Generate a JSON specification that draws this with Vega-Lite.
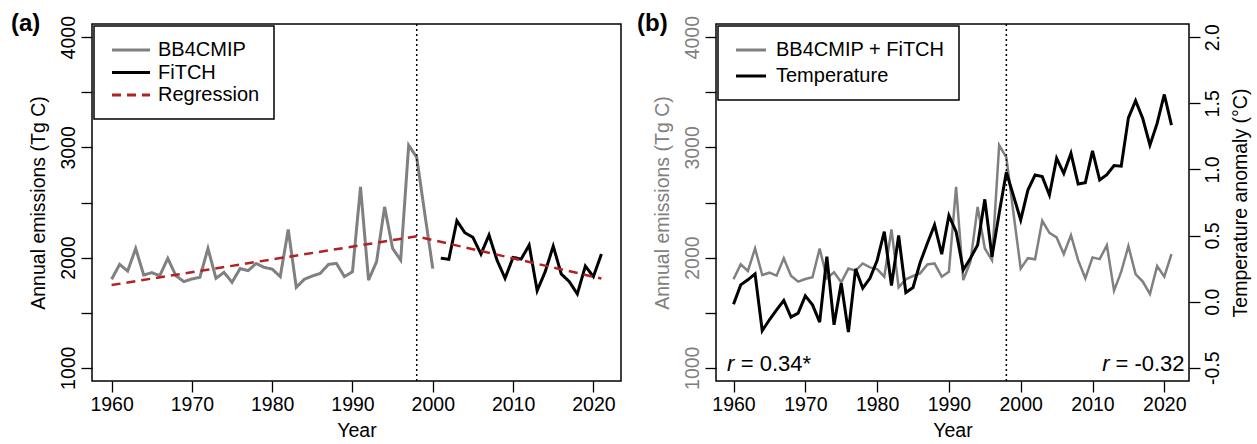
{
  "$schema": "https://vega.github.io/schema/vega-lite/v6.json",
  "padding": {"left": 10, "top": 10, "right": 5, "bottom": 5},
  "bounds": "flush",
  "spacing": 95,
  "resolve": {"scale": {"color": "independent", "strokeDash": "independent"}, "legend": {"color": "independent", "strokeDash": "independent"}},
  "config": {
    "font": "Liberation Sans",
    "view": {"stroke": "black", "strokeWidth": 1.5},
    "axis": {"grid": false, "domain": false, "tickColor": "black", "tickSize": 11, "tickWidth": 1.3, "labelFontSize": 19.5, "titleFontSize": 19.5, "titleFontWeight": "normal", "labelColor": "black", "titleColor": "black", "labelFlush": false, "labelOverlap": false, "labelPadding": 3},
    "legend": {"orient": "top-left", "offset": 2, "strokeColor": "black", "strokeWidth": 1.5, "fillColor": "white", "padding": 14, "labelFontSize": 20, "labelColor": "black", "symbolType": "M-0.8,0H4.27", "symbolSize": 225, "symbolStrokeWidth": 3, "labelOffset": 30, "rowPadding": 2.5, "labelLimit": 400, "title": null},
    "title": {"fontSize": 24, "fontWeight": "bold", "anchor": "start", "frame": "group", "color": "black"}
  },
  "datasets": {
    "emis": [
      {"year": 1960, "value": 1803, "series": "BB4CMIP"},
      {"year": 1961, "value": 1938, "series": "BB4CMIP"},
      {"year": 1962, "value": 1878, "series": "BB4CMIP"},
      {"year": 1963, "value": 2083, "series": "BB4CMIP"},
      {"year": 1964, "value": 1842, "series": "BB4CMIP"},
      {"year": 1965, "value": 1863, "series": "BB4CMIP"},
      {"year": 1966, "value": 1836, "series": "BB4CMIP"},
      {"year": 1967, "value": 1993, "series": "BB4CMIP"},
      {"year": 1968, "value": 1836, "series": "BB4CMIP"},
      {"year": 1969, "value": 1782, "series": "BB4CMIP"},
      {"year": 1970, "value": 1806, "series": "BB4CMIP"},
      {"year": 1971, "value": 1821, "series": "BB4CMIP"},
      {"year": 1972, "value": 2083, "series": "BB4CMIP"},
      {"year": 1973, "value": 1812, "series": "BB4CMIP"},
      {"year": 1974, "value": 1866, "series": "BB4CMIP"},
      {"year": 1975, "value": 1776, "series": "BB4CMIP"},
      {"year": 1976, "value": 1900, "series": "BB4CMIP"},
      {"year": 1977, "value": 1881, "series": "BB4CMIP"},
      {"year": 1978, "value": 1947, "series": "BB4CMIP"},
      {"year": 1979, "value": 1911, "series": "BB4CMIP"},
      {"year": 1980, "value": 1896, "series": "BB4CMIP"},
      {"year": 1981, "value": 1827, "series": "BB4CMIP"},
      {"year": 1982, "value": 2255, "series": "BB4CMIP"},
      {"year": 1983, "value": 1730, "series": "BB4CMIP"},
      {"year": 1984, "value": 1803, "series": "BB4CMIP"},
      {"year": 1985, "value": 1833, "series": "BB4CMIP"},
      {"year": 1986, "value": 1857, "series": "BB4CMIP"},
      {"year": 1987, "value": 1938, "series": "BB4CMIP"},
      {"year": 1988, "value": 1947, "series": "BB4CMIP"},
      {"year": 1989, "value": 1827, "series": "BB4CMIP"},
      {"year": 1990, "value": 1872, "series": "BB4CMIP"},
      {"year": 1991, "value": 2641, "series": "BB4CMIP"},
      {"year": 1992, "value": 1796, "series": "BB4CMIP"},
      {"year": 1993, "value": 1963, "series": "BB4CMIP"},
      {"year": 1994, "value": 2460, "series": "BB4CMIP"},
      {"year": 1995, "value": 2083, "series": "BB4CMIP"},
      {"year": 1996, "value": 1977, "series": "BB4CMIP"},
      {"year": 1997, "value": 3020, "series": "BB4CMIP"},
      {"year": 1998, "value": 2910, "series": "BB4CMIP"},
      {"year": 1999, "value": 2400, "series": "BB4CMIP"},
      {"year": 2000, "value": 1900, "series": "BB4CMIP"},
      {"year": 2001, "value": 1995, "series": "FiTCH"},
      {"year": 2002, "value": 1984, "series": "FiTCH"},
      {"year": 2003, "value": 2334, "series": "FiTCH"},
      {"year": 2004, "value": 2225, "series": "FiTCH"},
      {"year": 2005, "value": 2183, "series": "FiTCH"},
      {"year": 2006, "value": 2032, "series": "FiTCH"},
      {"year": 2007, "value": 2204, "series": "FiTCH"},
      {"year": 2008, "value": 1977, "series": "FiTCH"},
      {"year": 2009, "value": 1812, "series": "FiTCH"},
      {"year": 2010, "value": 2002, "series": "FiTCH"},
      {"year": 2011, "value": 1986, "series": "FiTCH"},
      {"year": 2012, "value": 2113, "series": "FiTCH"},
      {"year": 2013, "value": 1700, "series": "FiTCH"},
      {"year": 2014, "value": 1872, "series": "FiTCH"},
      {"year": 2015, "value": 2104, "series": "FiTCH"},
      {"year": 2016, "value": 1851, "series": "FiTCH"},
      {"year": 2017, "value": 1782, "series": "FiTCH"},
      {"year": 2018, "value": 1670, "series": "FiTCH"},
      {"year": 2019, "value": 1923, "series": "FiTCH"},
      {"year": 2020, "value": 1827, "series": "FiTCH"},
      {"year": 2021, "value": 2032, "series": "FiTCH"}
    ],
    "reg": [
      {"year": 1960, "value": 1751, "series": "Regression"},
      {"year": 1998, "value": 2193, "series": "Regression"},
      {"year": 2021, "value": 1810, "series": "Regression"}
    ],
    "temp": [
      {"year": 1960, "temp": -0.02}, {"year": 1961, "temp": 0.127}, {"year": 1962, "temp": 0.165}, {"year": 1963, "temp": 0.21},
      {"year": 1964, "temp": -0.22}, {"year": 1965, "temp": -0.137}, {"year": 1966, "temp": -0.062}, {"year": 1967, "temp": 0.009},
      {"year": 1968, "temp": -0.117}, {"year": 1969, "temp": -0.087}, {"year": 1970, "temp": 0.044}, {"year": 1971, "temp": -0.024},
      {"year": 1972, "temp": -0.155}, {"year": 1973, "temp": 0.341}, {"year": 1974, "temp": -0.175}, {"year": 1975, "temp": 0.14},
      {"year": 1976, "temp": -0.23}, {"year": 1977, "temp": 0.248}, {"year": 1978, "temp": 0.102}, {"year": 1979, "temp": 0.177},
      {"year": 1980, "temp": 0.311}, {"year": 1981, "temp": 0.53}, {"year": 1982, "temp": 0.122}, {"year": 1983, "temp": 0.5},
      {"year": 1984, "temp": 0.069}, {"year": 1985, "temp": 0.107}, {"year": 1986, "temp": 0.296}, {"year": 1987, "temp": 0.442},
      {"year": 1988, "temp": 0.58}, {"year": 1989, "temp": 0.359}, {"year": 1990, "temp": 0.651}, {"year": 1991, "temp": 0.53},
      {"year": 1992, "temp": 0.24}, {"year": 1993, "temp": 0.329}, {"year": 1994, "temp": 0.429}, {"year": 1995, "temp": 0.774},
      {"year": 1996, "temp": 0.34}, {"year": 1997, "temp": 0.668}, {"year": 1998, "temp": 0.98}, {"year": 1999, "temp": 0.80},
      {"year": 2000, "temp": 0.618}, {"year": 2001, "temp": 0.844}, {"year": 2002, "temp": 0.958}, {"year": 2003, "temp": 0.946},
      {"year": 2004, "temp": 0.807}, {"year": 2005, "temp": 1.084}, {"year": 2006, "temp": 0.971}, {"year": 2007, "temp": 1.122},
      {"year": 2008, "temp": 0.89}, {"year": 2009, "temp": 0.9}, {"year": 2010, "temp": 1.14}, {"year": 2011, "temp": 0.92},
      {"year": 2012, "temp": 0.96}, {"year": 2013, "temp": 1.03}, {"year": 2014, "temp": 1.025}, {"year": 2015, "temp": 1.39},
      {"year": 2016, "temp": 1.52}, {"year": 2017, "temp": 1.385}, {"year": 2018, "temp": 1.184}, {"year": 2019, "temp": 1.348},
      {"year": 2020, "temp": 1.567}, {"year": 2021, "temp": 1.335}
    ]
  },
  "hconcat": [
    {
      "width": 529,
      "height": 357,
      "title": {"text": "(a)", "dx": -81, "offset": -20},
      "layer": [
        {
          "data": {"name": "emis"},
          "mark": {"type": "line", "strokeWidth": 3},
          "encoding": {
            "x": {"field": "year", "type": "quantitative", "scale": {"domain": [1957.56, 2023.44], "nice": false, "zero": false}, "axis": {"values": [1960, 1970, 1980, 1990, 2000, 2010, 2020], "format": "d", "title": "Year", "titlePadding": 8}},
            "y": {"field": "value", "type": "quantitative", "scale": {"domain": [880, 4120], "nice": false, "zero": false}, "axis": {"values": [1000, 1500, 2000, 2500, 3000, 3500, 4000], "format": "d", "labelExpr": "datum.value % 1000 == 0 ? datum.label : ''", "labelAngle": -90, "labelAlign": "center", "labelBaseline": "bottom", "title": "Annual emissions (Tg C)", "titlePadding": 10}},
            "color": {"field": "series", "type": "nominal", "scale": {"domain": ["BB4CMIP", "FiTCH", "Regression"], "range": ["#808080", "#000000", "#B22222"]}},
            "strokeDash": {"field": "series", "type": "nominal", "scale": {"domain": ["BB4CMIP", "FiTCH", "Regression"], "range": [[1, 0], [1, 0], [9, 6]]}}
          }
        },
        {
          "data": {"name": "reg"},
          "mark": {"type": "line", "strokeWidth": 2.5},
          "encoding": {
            "x": {"field": "year", "type": "quantitative"},
            "y": {"field": "value", "type": "quantitative"},
            "color": {"field": "series", "type": "nominal"},
            "strokeDash": {"field": "series", "type": "nominal"}
          }
        },
        {
          "data": {"values": [{"year": 1998}]},
          "mark": {"type": "rule", "strokeDash": [2, 3], "strokeWidth": 1.5, "color": "black"},
          "encoding": {"x": {"field": "year", "type": "quantitative"}}
        }
      ]
    },
    {
      "width": 473,
      "height": 357,
      "title": {"text": "(b)", "dx": -79, "offset": -20},
      "layer": [
        {
          "data": {"name": "emis"},
          "mark": {"type": "line", "strokeWidth": 2.5},
          "encoding": {
            "x": {"field": "year", "type": "quantitative", "scale": {"domain": [1957.56, 2023.44], "nice": false, "zero": false}, "axis": {"values": [1960, 1970, 1980, 1990, 2000, 2010, 2020], "format": "d", "title": "Year", "titlePadding": 8}},
            "y": {"field": "value", "type": "quantitative", "scale": {"domain": [880, 4120], "nice": false, "zero": false}, "axis": {"orient": "left", "values": [1000, 1500, 2000, 2500, 3000, 3500, 4000], "format": "d", "labelExpr": "datum.value % 1000 == 0 ? datum.label : ''", "labelAngle": -90, "labelAlign": "center", "labelBaseline": "bottom", "labelColor": "#808080", "titleColor": "#808080", "title": "Annual emissions (Tg C)", "titlePadding": 10}},
            "color": {"datum": "BB4CMIP + FiTCH", "type": "nominal", "scale": {"domain": ["BB4CMIP + FiTCH", "Temperature"], "range": ["#808080", "#000000"]}, "legend": {"symbolType": "M-0.8,0H3.2", "rowPadding": 6, "padding": 14, "labelOffset": 24}}
          }
        },
        {
          "layer": [
            {
              "data": {"name": "temp"},
              "mark": {"type": "line", "strokeWidth": 3},
              "encoding": {
                "x": {"field": "year", "type": "quantitative"},
                "y": {"field": "temp", "type": "quantitative", "scale": {"domain": [-0.6, 2.1], "nice": false, "zero": false}, "axis": {"orient": "right", "values": [-0.5, 0, 0.5, 1, 1.5, 2], "format": ".1f", "labelExpr": "replace(datum.label, '\u2212', '-')", "labelAngle": -90, "labelAlign": "center", "labelBaseline": "top", "title": "Temperature anomaly (\u00b0C)", "titleAngle": -90, "titleBaseline": "top", "titlePadding": 10}},
                "color": {"datum": "Temperature", "type": "nominal"}
              }
            },
            {
              "data": {"values": [{"year": 1959.1, "temp": -0.527, "label": "r"}, {"year": 2011.35, "temp": -0.527, "label": "r"}]},
              "mark": {"type": "text", "fontStyle": "italic", "fontSize": 22, "align": "left", "baseline": "alphabetic", "color": "black"},
              "encoding": {"x": {"field": "year", "type": "quantitative"}, "y": {"field": "temp", "type": "quantitative"}, "text": {"field": "label"}}
            },
            {
              "data": {"values": [{"year": 1961.0, "temp": -0.527, "label": "= 0.34*"}, {"year": 2013.2, "temp": -0.527, "label": "= -0.32"}]},
              "mark": {"type": "text", "fontSize": 22, "align": "left", "baseline": "alphabetic", "color": "black"},
              "encoding": {"x": {"field": "year", "type": "quantitative"}, "y": {"field": "temp", "type": "quantitative"}, "text": {"field": "label"}}
            }
          ]
        },
        {
          "data": {"values": [{"year": 1998}]},
          "mark": {"type": "rule", "strokeDash": [2, 3], "strokeWidth": 1.5, "color": "black"},
          "encoding": {"x": {"field": "year", "type": "quantitative"}}
        }
      ],
      "resolve": {"scale": {"y": "independent"}}
    }
  ]
}
